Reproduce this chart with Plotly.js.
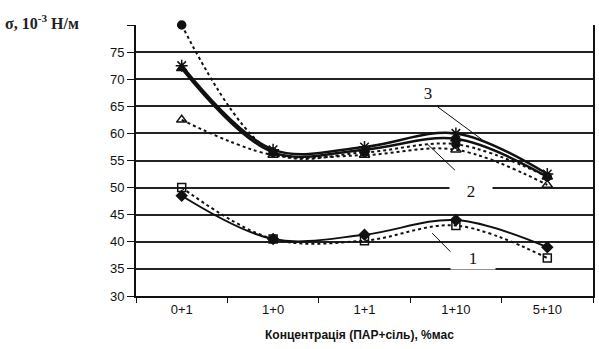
<!DOCTYPE html>
<html>
<head>
<meta charset="utf-8">
<script src="https://cdn.plot.ly/plotly-3.0.1.min.js"></script>
<style>html,body{margin:0;padding:0;background:#fff;}#chart{width:599px;height:349px;}</style>
</head>
<body>
<div id="chart"></div>
<script>
// Categories (x axis)
const categories = ['0+1', '1+0', '1+1', '1+10', '5+10'];
// Upper group, solid curves (label 3)
const s3a = [72.5, 57, 57.5, 60, 52.5];   // asterisk markers
const s3b = [72, 56.5, 57, 59, 52];       // filled triangle markers
// Upper group, dotted curves (label 2)
const s2a = [80, 56.5, 56.5, 58, 52];     // filled circle markers
const s2b = [62.5, 56, 56, 57, 50.5];     // open triangle markers
// Lower group (label 1)
const s1a = [48.5, 40.5, 41.3, 44, 39];   // solid, diamond markers
const s1b = [50, 40.5, 40.2, 43, 37];     // dotted, open square markers
const yTicks = [30, 35, 40, 45, 50, 55, 60, 65, 70, 75, 80];
const yTickText = ['30', '35', '40', '45', '50', '55', '60', '65', '70', '75', ''];

function tr(y, dash, width, symbol, size) {
  return {
    x: categories, y: y, type: 'scatter', mode: 'lines+markers', cliponaxis: false,
    line: {color: '#111', width: width, dash: dash, shape: 'spline', smoothing: 1},
    marker: {color: '#111', symbol: symbol, size: size, line: {color: '#111', width: 1.5}},
    showlegend: false, hoverinfo: 'skip'
  };
}
const data = [
  tr(s2a, 'dot', 2, 'circle', 8),
  tr(s2b, 'dot', 2, 'triangle-up-open', 9),
  tr(s3b, 'solid', 2.5, 'triangle-up', 9),
  tr(s3a, 'solid', 2.5, 'asterisk-open', 10),
  tr(s1b, 'dot', 2, 'square-open', 8),
  tr(s1a, 'solid', 2, 'diamond', 8)
];

const serif = 'Liberation Serif, DejaVu Serif, serif';
const narrow = 'Liberation Sans Narrow, Liberation Sans, Arial, sans-serif';

const layout = {
  width: 599, height: 349,
  margin: {l: 136, r: 6, t: 25, b: 53},
  paper_bgcolor: '#fff', plot_bgcolor: '#fff',
  xaxis: {
    type: 'category', range: [-0.5, 4.5],
    showgrid: false, zeroline: false,
    showline: true, linecolor: '#111', linewidth: 2,
    ticks: 'outside', tickson: 'boundaries', ticklen: 5, tickcolor: '#111',
    tickfont: {family: narrow, size: 13, color: '#111'}
  },
  yaxis: {
    range: [30, 80], tickvals: yTicks, ticktext: yTickText,
    showgrid: true, gridcolor: '#222', gridwidth: 2,
    zeroline: false, showline: true, linecolor: '#111', linewidth: 2,
    mirror: true,
    ticks: 'outside', ticklen: 7, tickcolor: '#111',
    tickfont: {family: narrow, size: 13, color: '#111'}
  },
  shapes: [
    {type: 'line', xref: 'x', yref: 'y', x0: 2.80, y0: 64.9, x1: 3.29, y1: 58.8, line: {color: '#111', width: 1}},
    {type: 'line', xref: 'x', yref: 'y', x0: 2.69, y0: 58.0, x1: 2.99, y1: 53.2, line: {color: '#111', width: 1}},
    {type: 'line', xref: 'x', yref: 'y', x0: 2.74, y0: 41.6, x1: 3.01, y1: 37.0, line: {color: '#111', width: 1}}
  ],
  annotations: [
    {xref: 'x', yref: 'y', x: 2.69, y: 67.4, text: '3', showarrow: false, bgcolor: '#fff', width: 36, font: {family: serif, size: 17, color: '#111'}},
    {xref: 'x', yref: 'y', x: 3.17, y: 49.2, text: '2', showarrow: false, bgcolor: '#fff', width: 40, font: {family: serif, size: 17, color: '#111'}},
    {xref: 'x', yref: 'y', x: 3.19, y: 37.0, text: '1', showarrow: false, bgcolor: '#fff', width: 42, font: {family: serif, size: 17, color: '#111'}},
    {xref: 'paper', yref: 'paper', x: -0.29, y: 1.01, xanchor: 'left', yanchor: 'middle', showarrow: false,
     text: '<b>σ, 10<sup>-3</sup> Н/м</b>', font: {family: serif, size: 16, color: '#222'}},
    {xref: 'paper', yref: 'paper', x: 0.49, y: -0.144, xanchor: 'center', yanchor: 'middle', showarrow: false,
     text: '<b>Концентрація (ПАР+сіль), %мас</b>', font: {family: narrow, size: 12, color: '#111'}}
  ]
};
Plotly.newPlot('chart', data, layout, {displayModeBar: false, staticPlot: true});
</script>
</body>
</html>
